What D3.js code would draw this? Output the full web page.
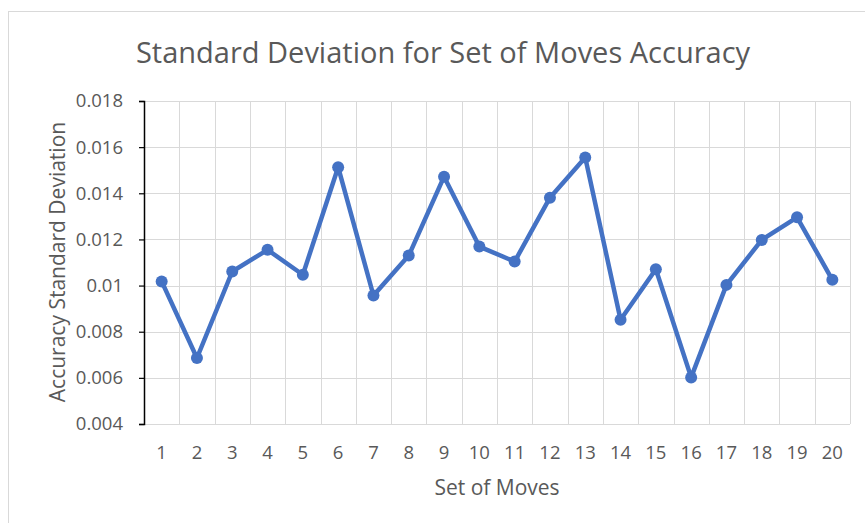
<!DOCTYPE html>
<html>
<head>
<meta charset="utf-8">
<script src="https://cdn.jsdelivr.net/npm/d3@7"></script>
<style>
  body { margin: 0; background: #fff; }
  text { font-family: "Open Sans", sans-serif; fill: #595959; }
</style>
</head>
<body>
<svg id="chart" width="865" height="523"></svg>
<script>
// data
const moves = ["1","2","3","4","5","6","7","8","9","10","11","12","13","14","15","16","17","18","19","20"];
const stdDev = [0.01018, 0.00686, 0.01061, 0.01155, 0.01047, 0.01513, 0.00957, 0.0113, 0.01472, 0.01169,
                0.01104, 0.01381, 0.01555, 0.00852, 0.01071, 0.00602, 0.01003, 0.01198, 0.01296, 0.01025];
const yTicks = [0.004, 0.006, 0.008, 0.01, 0.012, 0.014, 0.016, 0.018];

const svg = d3.select("#chart");

// outer chart frame, runs off the right/bottom edge
svg.append("rect").attr("x", 8.5).attr("y", 11.5).attr("width", 900).attr("height", 600)
  .attr("fill", "#fff").attr("stroke", "#d9d9d9").attr("stroke-width", 1);

const margin = { top: 101, right: 15, bottom: 99, left: 144 };
const width = 865 - margin.left - margin.right;
const height = 523 - margin.top - margin.bottom;

const g = svg.append("g").attr("transform", "translate(" + margin.left + "," + margin.top + ")");

const x = d3.scaleBand().domain(moves).range([0, width]);
const y = d3.scaleLinear().domain([0.004, 0.018]).range([height, 0]);

// gridlines
g.append("g").selectAll("line").data(yTicks).enter().append("line")
  .attr("x1", 0).attr("x2", width)
  .attr("y1", (d) => Math.round(y(d)) + 0.5).attr("y2", (d) => Math.round(y(d)) + 0.5)
  .attr("stroke", "#d9d9d9").attr("stroke-width", 1);

const bounds = moves.map((m) => x(m)).concat([width]);
g.append("g").selectAll("line").data(bounds.slice(1)).enter().append("line")
  .attr("x1", (d) => Math.round(d) + 0.5).attr("x2", (d) => Math.round(d) + 0.5)
  .attr("y1", 0).attr("y2", height)
  .attr("stroke", "#d9d9d9").attr("stroke-width", 1);

// y axis
const yAxis = g.append("g")
  .call(d3.axisLeft(y).tickValues(yTicks).tickSize(5).tickPadding(16).tickFormat((d) => String(+d.toFixed(3))));
yAxis.select(".domain").attr("stroke", "#000").attr("stroke-width", 1.5);
yAxis.selectAll(".tick line").attr("stroke", "#000").attr("stroke-width", 1.2);
yAxis.selectAll("text").attr("fill", "#595959").style("font-size", "18.5px").style("font-family", "Open Sans");

// x labels
const xAxis = g.append("g").attr("transform", "translate(0," + height + ")")
  .call(d3.axisBottom(x).tickSize(0).tickPadding(22));
xAxis.select(".domain").remove();
xAxis.selectAll("text").attr("fill", "#595959").style("font-size", "18.5px").style("font-family", "Open Sans");

// line + markers
const line = d3.line().x((d, i) => x(moves[i]) + x.bandwidth() / 2).y((d) => y(d));

g.append("path").datum(stdDev).attr("fill", "none").attr("stroke", "#4472C4")
  .attr("stroke-width", 4.5).attr("stroke-linejoin", "round").attr("d", line);

g.selectAll(".dot").data(stdDev).enter().append("circle").attr("class", "dot")
  .attr("cx", (d, i) => x(moves[i]) + x.bandwidth() / 2)
  .attr("cy", (d) => y(d)).attr("r", 6).attr("fill", "#4472C4");

// titles
svg.append("text").attr("x", 443).attr("y", 63).attr("text-anchor", "middle")
  .style("font-size", "29px").text("Standard Deviation for Set of Moves Accuracy");

svg.append("text").attr("x", 497).attr("y", 495).attr("text-anchor", "middle")
  .style("font-size", "21px").text("Set of Moves");

svg.append("text").attr("transform", "translate(65,262) rotate(-90)").attr("text-anchor", "middle")
  .style("font-size", "21px").text("Accuracy Standard Deviation");
</script>
</body>
</html>
